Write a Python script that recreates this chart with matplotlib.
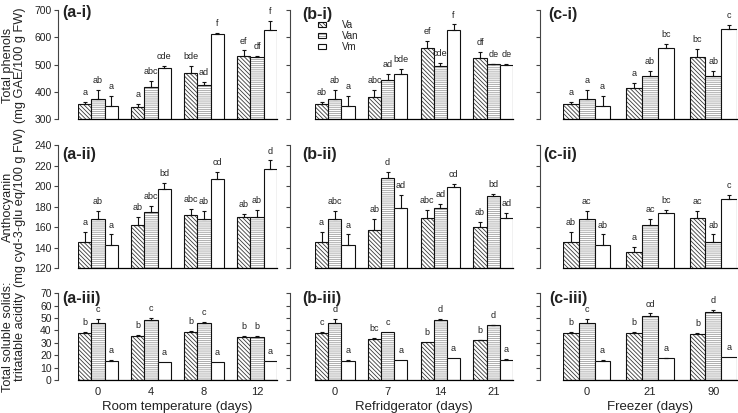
import matplotlib
matplotlib.use('Agg')
import matplotlib.pyplot as plt
import numpy as np

plt.rcParams['font.family'] = ['Liberation Sans', 'DejaVu Sans']
plt.rcParams['hatch.linewidth'] = 0.6

varieties = ['Va', 'Van', 'Vm']
days_rt = ['0', '4', '8', '12']
days_fr = ['0', '7', '14', '21']
days_fz = ['0', '21', '90']

# total phenols (mg GAE/100 g FW), rows = Va, Van, Vm
phen_rt = [[356, 344, 469, 532], [376, 419, 427, 529], [348, 489, 613, 627]]
phen_rt_err = [[6, 11, 27, 20], [33, 20, 10, 3], [36, 7, 4, 32]]
phen_rt_let = [['a', 'a', 'bde', 'ef'], ['ab', 'abc', 'ad', 'df'], ['a', 'cde', 'f', 'f']]

phen_fr = [[356, 381, 560, 524], [376, 443, 494, 501], [348, 465, 628, 497]]
phen_fr_err = [[6, 28, 26, 23], [33, 24, 13, 2], [36, 20, 19, 5]]
phen_fr_let = [['ab', 'abc', 'ef', 'df'], ['ab', 'ad', 'cde', 'de'], ['a', 'bde', 'f', 'de']]

phen_fz = [[356, 413, 528], [376, 459, 459], [348, 562, 630]]
phen_fz_err = [[6, 19, 30], [33, 19, 19], [36, 13, 15]]
phen_fz_let = [['a', 'a', 'bc'], ['a', 'ab', 'ab'], ['a', 'bc', 'c']]

# anthocyanin (mg cyd-3-glu eq/100 g FW)
anth_rt = [[146, 162, 172, 170], [168, 175, 168, 170], [143, 197, 207, 217]]
anth_rt_err = [[9, 8, 6, 3], [8, 6, 8, 7], [10, 6, 7, 8]]
anth_rt_let = [['a', 'ab', 'abc', 'ab'], ['ab', 'abc', 'ab', 'ab'], ['a', 'bd', 'cd', 'd']]

anth_fr = [[146, 157, 169, 160], [168, 208, 179, 190], [143, 179, 199, 169]]
anth_fr_err = [[9, 11, 8, 5], [8, 6, 4, 2], [10, 12, 3, 5]]
anth_fr_let = [['a', 'ab', 'abc', 'ab'], ['abc', 'd', 'ad', 'bd'], ['a', 'ad', 'cd', 'ad']]

anth_fz = [[146, 136, 169], [168, 162, 146], [143, 174, 187]]
anth_fz_err = [[9, 5, 7], [8, 6, 7], [10, 3, 4]]
anth_fz_let = [['ab', 'a', 'ac'], ['ac', 'ac', 'ab'], ['ab', 'bc', 'c']]

# total soluble solids : titratable acidity
tss_rt = [[37.7, 35.8, 38.5, 35.0], [45.8, 48.5, 45.8, 34.7], [15.3, 14.8, 14.8, 15.1]]
tss_rt_err = [[0.8, 0.8, 0.8, 0.5], [3.7, 1.3, 1.0, 0.6], [0.6, 0, 0, 0]]
tss_rt_let = [['b', 'b', 'b', 'b'], ['c', 'c', 'c', 'b'], ['a', 'a', 'a', 'a']]

tss_fr = [[37.7, 33.4, 30.4, 32.0], [46.3, 38.5, 48.5, 44.2], [15.6, 16.2, 17.5, 16.2]]
tss_fr_err = [[1.3, 0.8, 0, 0.6], [3.2, 0, 0.5, 0.5], [0.6, 0, 0, 0.5]]
tss_fr_let = [['c', 'bc', 'b', 'b'], ['d', 'c', 'd', 'd'], ['a', 'a', 'a', 'a']]

tss_fz = [[37.7, 37.7, 37.2], [46.3, 52.0, 54.7], [15.6, 17.5, 18.6]]
tss_fz_err = [[0.8, 0.8, 1.0], [3.2, 1.8, 1.8], [0.6, 0.3, 0]]
tss_fz_let = [['b', 'b', 'b'], ['c', 'cd', 'd'], ['a', 'a', 'a']]

W, H = 738, 413
txt = '#222222'
hatches = ['\\\\\\\\\\\\\\\\', '--------', '']
hatch_cols = ['#3a3a3a', '#a0a0a0', 'white']

fig = plt.figure(figsize=(W / 100, H / 100), dpi=100)

col_x = [(78, 277), (315, 513), (563, 737)]
col_off = [20, 25, 23]
row_y = [(10, 119.3), (145, 268.3), (293.3, 380)]
ylims = [(300, 700), (120, 240), (0, 70)]
yticks = [range(300, 701, 100), range(120, 241, 20), range(0, 71, 10)]

panels = [
    [(phen_rt, phen_rt_err, phen_rt_let), (phen_fr, phen_fr_err, phen_fr_let), (phen_fz, phen_fz_err, phen_fz_let)],
    [(anth_rt, anth_rt_err, anth_rt_let), (anth_fr, anth_fr_err, anth_fr_let), (anth_fz, anth_fz_err, anth_fz_let)],
    [(tss_rt, tss_rt_err, tss_rt_let), (tss_fr, tss_fr_err, tss_fr_let), (tss_fz, tss_fz_err, tss_fz_let)],
]
day_labels = [days_rt, days_fr, days_fz]
xlabels = ['Room temperature (days)', 'Refridgerator (days)', 'Freezer (days)']
tags = [['(a-i)', '(b-i)', '(c-i)'], ['(a-ii)', '(b-ii)', '(c-ii)'], ['(a-iii)', '(b-iii)', '(c-iii)']]
tag_xy = [[(62, 13), (302, 14), (548, 14)],
          [(62, 155), (302, 155), (543, 155)],
          [(62, 298), (302, 298), (549, 298)]]
ylabels = ['Total phenols\n(mg GAE/100 g FW)',
           'Anthocyanin\n(mg cyd-3-glu eq/100 g FW)',
           'Total soluble solids:\ntritatable acidity']
ylabel_y = [65, 207, 337]

legend_handles = []
for r in range(3):
    for c in range(3):
        vals, errs, lets = panels[r][c]
        x0, x1 = col_x[c]
        y0, y1 = row_y[r]
        ax = fig.add_axes([x0 / W, 1 - y1 / H, (x1 - x0) / W, (y1 - y0) / H])
        ngrp = len(vals[0])
        for k in range(3):
            xs = np.arange(ngrp) * 4 + k + 0.5
            h = np.array(vals[k])
            e = np.array(errs[k])
            hb = ax.bar(xs, h, width=1, color='white', edgecolor=hatch_cols[k],
                        hatch=hatches[k], linewidth=0)
            ob = ax.bar(xs, h, width=1, fill=False, edgecolor='#111111', linewidth=0.8)
            if r == 0 and c == 0:
                legend_handles.append((hb[0], ob[0]))
            m = e > 0
            ax.errorbar(xs[m], h[m], yerr=[np.zeros(m.sum()), e[m]], fmt='none',
                        ecolor='#111111', elinewidth=0.8, capsize=1.4, capthick=0.8)
            for xi, hi, ei, li in zip(xs, h, e, lets[k]):
                ax.annotate(li, (xi, hi + ei), xytext=(0, 3.5), textcoords='offset points',
                            ha='center', va='bottom', fontsize=6.5, color=txt)
        ax.set_xlim(0, ngrp * 4 - 1)
        ax.set_ylim(*ylims[r])
        ax.set_yticks(list(yticks[r]))
        for s in ['top', 'right']:
            ax.spines[s].set_visible(False)
        ax.spines['left'].set_position(('outward', col_off[c] * 0.72))
        ax.spines['left'].set_color('#444444')
        ax.spines['left'].set_linewidth(0.8)
        ax.spines['bottom'].set_linewidth(0.9)
        ax.tick_params(axis='y', length=3, width=0.8, color='#444444',
                       labelsize=7.5, labelcolor=txt, pad=1.5)
        if c > 0:
            ax.set_yticklabels([])
        if r == 2:
            ax.set_xticks(np.arange(ngrp) * 4 + 1.5)
            ax.set_xticklabels(day_labels[c])
            ax.tick_params(axis='x', length=0, labelsize=8, labelcolor=txt, pad=5)
            ax.set_xlabel(xlabels[c], fontsize=9.5, color=txt, labelpad=3)
        else:
            ax.set_xticks([])
        fig.text(tag_xy[r][c][0] / W, 1 - tag_xy[r][c][1] / H, tags[r][c],
                 fontsize=11.5, fontweight='bold', ha='left', va='center', color=txt)
        if r == 0 and c == 1:
            ax.legend(legend_handles, varieties, loc='upper left',
                      bbox_to_anchor=(313 / W, 1 - 15 / H), bbox_transform=fig.transFigure,
                      frameon=False, fontsize=7, handlelength=0.85, handleheight=0.45,
                      labelspacing=0.12, handletextpad=1.6, borderpad=0,
                      labelcolor=txt)

for r in range(3):
    fig.text(14 / W, 1 - ylabel_y[r] / H, ylabels[r], rotation=90, fontsize=9.2,
             ha='center', va='center', multialignment='center', linespacing=1.0, color=txt)

fig.savefig('out.png', dpi=100)
